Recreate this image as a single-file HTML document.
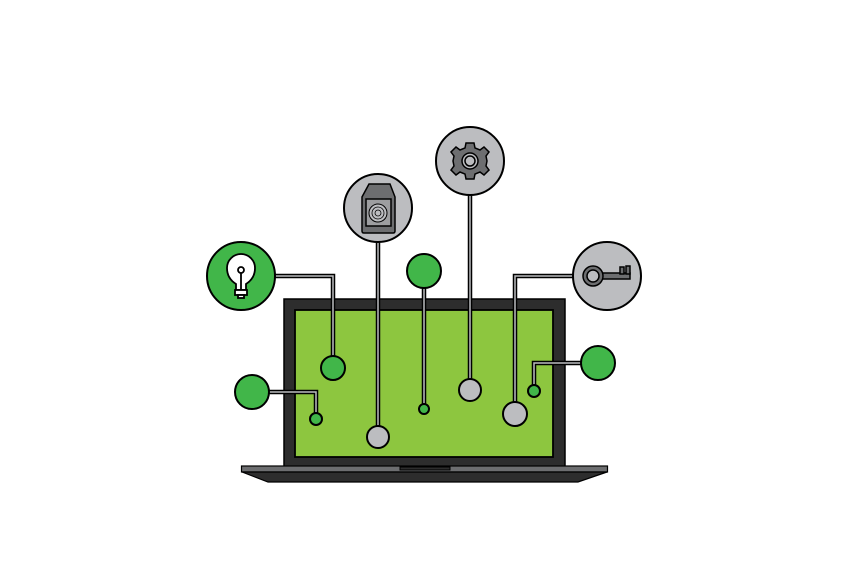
<!DOCTYPE html>
<html><head><style>html,body{margin:0;padding:0;background:#fff}</style></head><body>
<svg width="848" height="565" viewBox="0 0 848 565" xmlns="http://www.w3.org/2000/svg">
<rect x="284" y="299" width="281" height="168" fill="#2d2d2d" stroke="#000" stroke-width="1.5"/>
<rect x="295" y="310" width="258" height="147" fill="#8dc63f" stroke="#000" stroke-width="1.8"/>
<rect x="241.5" y="466" width="366" height="6" fill="#6d6e70" stroke="#000" stroke-width="1.2"/>
<polygon points="242,472 607,472 578,482 268,482" fill="#2d2d2d" stroke="#000" stroke-width="1.2"/>
<rect x="400" y="467" width="50" height="3" fill="#2d2d2d" stroke="#000" stroke-width="1"/>
<g fill="none" stroke-linejoin="miter">
<g stroke="#000" stroke-width="4.5">
<polyline points="275,276 333,276 333,356"/>
<polyline points="378,242 378,426"/>
<polyline points="424,288 424,404"/>
<polyline points="470,195 470,379"/>
<polyline points="573,276 515,276 515,402"/>
<polyline points="269,392 316,392 316,413"/>
<polyline points="581,363 534,363 534,385"/>
</g>
<g stroke="#bcbdc0" stroke-width="1.5">
<polyline points="275,276 333,276 333,356"/>
<polyline points="378,242 378,426"/>
<polyline points="424,288 424,404"/>
<polyline points="470,195 470,379"/>
<polyline points="573,276 515,276 515,402"/>
<polyline points="269,392 316,392 316,413"/>
<polyline points="581,363 534,363 534,385"/>
</g>
</g>
<g stroke="#000" stroke-width="2">
<circle cx="241" cy="276" r="34" fill="#41b649"/>
<circle cx="378" cy="208" r="34" fill="#bcbdc0"/>
<circle cx="470" cy="161" r="34" fill="#bcbdc0"/>
<circle cx="607" cy="276" r="34" fill="#bcbdc0"/>
<circle cx="424" cy="271" r="17" fill="#41b649"/>
<circle cx="252" cy="392" r="17" fill="#41b649"/>
<circle cx="598" cy="363" r="17" fill="#41b649"/>
<circle cx="333" cy="368" r="12" fill="#41b649"/>
<circle cx="378" cy="437" r="11" fill="#bcbdc0"/>
<circle cx="424" cy="409" r="5" fill="#41b649"/>
<circle cx="470" cy="390" r="11" fill="#bcbdc0"/>
<circle cx="515" cy="414" r="12" fill="#bcbdc0"/>
<circle cx="534" cy="391" r="6" fill="#41b649"/>
<circle cx="316" cy="419" r="6" fill="#41b649"/>
</g>
<g stroke="#000" stroke-width="1.8" fill="#fff">
<path d="M236,290 L236,284 C228,279 227,272 227,268 A14,14 0 0 1 255,268 C255,272 254,279 246,284 L246,290 Z"/>
<rect x="235" y="290" width="12" height="5"/>
<rect x="238" y="295" width="6" height="3"/>
<line x1="241" y1="272" x2="241" y2="290"/>
<circle cx="241" cy="270" r="3"/>
</g>
<g stroke="#000" stroke-width="1.5">
<path d="M369,184 L390,184 L395,197 L395,231 Q395,233 393,233 L364,233 Q362,233 362,231 L362,197 Z" fill="#6d6e70"/>
<rect x="366" y="199" width="25" height="27" fill="#9d9ea0"/>
<circle cx="378" cy="213" r="9" fill="#bcbdc0" stroke-width="1"/>
<circle cx="378" cy="213" r="6" fill="none" stroke-width="0.8"/>
<circle cx="378" cy="213" r="3" fill="none" stroke-width="0.8"/>
</g>
<g transform="translate(470,161)" stroke="#000" stroke-width="1.5" fill="#6d6e70">
<path d="M-4,-18 L4,-18 L5,-13 L10,-11 L14,-14 L19,-9 L16,-5 L17,0 L17,0 L16,5 L19,9 L14,14 L10,11 L5,13 L4,18 L-4,18 L-5,13 L-10,11 L-14,14 L-19,9 L-16,5 L-17,0 L-16,-5 L-19,-9 L-14,-14 L-10,-11 L-5,-13 Z"/>
<circle r="8" fill="#bcbdc0"/>
<circle r="5" fill="#bcbdc0"/>
</g>
<g stroke="#000" stroke-width="1.5" fill="#6d6e70">
<path d="M602,273 L630,273 L630,279 L602,279 Z"/>
<rect x="620" y="267" width="4" height="7"/>
<rect x="626" y="266" width="4" height="8"/>
<circle cx="593" cy="276" r="10"/>
<circle cx="593" cy="276" r="6" fill="#bcbdc0"/>
</g>
</svg>
</body></html>
